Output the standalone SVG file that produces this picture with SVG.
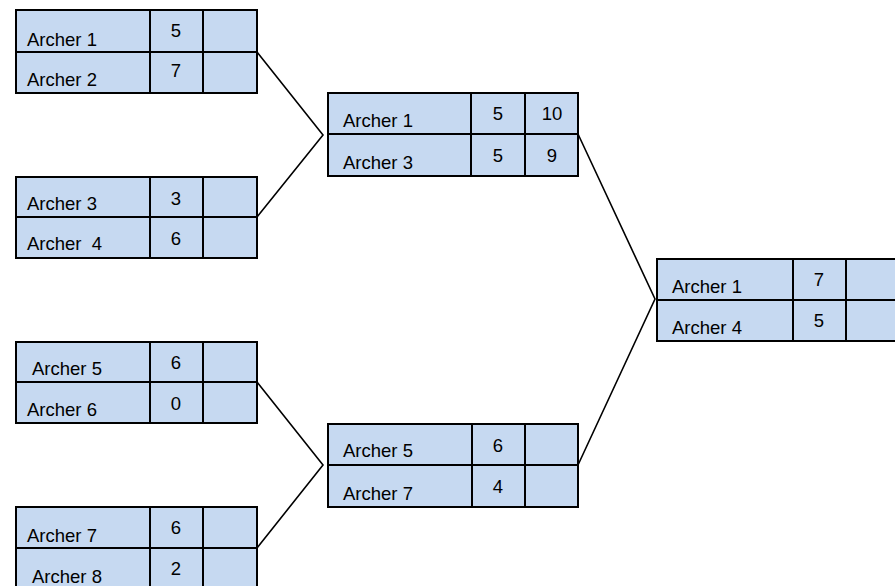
<svg xmlns="http://www.w3.org/2000/svg" width="895" height="586" viewBox="0 0 895 586">
<style>
.cell{fill:#C6D9F1;stroke:#000;stroke-width:2}
.div{stroke:#000;stroke-width:2}
.t{font-family:"Liberation Sans",Arial,sans-serif;font-size:18.5px;fill:#000}
.n{font-family:"Liberation Sans",Arial,sans-serif;font-size:18.5px;fill:#000;text-anchor:middle}
.con{fill:none;stroke:#000;stroke-width:1.6}
</style>
<rect width="895" height="586" fill="#fff"/>
<g id="connectors">
<polyline class="con" points="257,52 323,135 257,217"/>
<polyline class="con" points="257,382 323,465 257,548"/>
<polyline class="con" points="578,134 655,299 578,465"/>
</g>
<g id="match1">
<rect class="cell" x="16" y="10" width="241" height="83"/>
<line class="div" x1="16" y1="52" x2="257" y2="52"/>
<line class="div" x1="150" y1="10" x2="150" y2="93"/>
<line class="div" x1="203" y1="10" x2="203" y2="93"/>
<text class="t" x="27" y="46">Archer 1</text>
<text class="n" x="176" y="37">5</text>
<text class="t" x="27" y="86">Archer 2</text>
<text class="n" x="176" y="77">7</text>
</g>
<g id="match2">
<rect class="cell" x="16" y="177" width="241" height="81"/>
<line class="div" x1="16" y1="217" x2="257" y2="217"/>
<line class="div" x1="150" y1="177" x2="150" y2="258"/>
<line class="div" x1="203" y1="177" x2="203" y2="258"/>
<text class="t" x="27" y="210">Archer 3</text>
<text class="n" x="176" y="205">3</text>
<text class="t" x="27" y="250" xml:space="preserve">Archer  4</text>
<text class="n" x="176" y="245">6</text>
</g>
<g id="match3">
<rect class="cell" x="16" y="342" width="241" height="81"/>
<line class="div" x1="16" y1="382" x2="257" y2="382"/>
<line class="div" x1="150" y1="342" x2="150" y2="423"/>
<line class="div" x1="203" y1="342" x2="203" y2="423"/>
<text class="t" x="32" y="375">Archer 5</text>
<text class="n" x="176" y="369">6</text>
<text class="t" x="27" y="416">Archer 6</text>
<text class="n" x="176" y="410">0</text>
</g>
<g id="match4">
<rect class="cell" x="16" y="507" width="241" height="84"/>
<line class="div" x1="16" y1="548" x2="257" y2="548"/>
<line class="div" x1="150" y1="507" x2="150" y2="591"/>
<line class="div" x1="203" y1="507" x2="203" y2="591"/>
<text class="t" x="27" y="542">Archer 7</text>
<text class="n" x="176" y="534">6</text>
<text class="t" x="32" y="583">Archer 8</text>
<text class="n" x="176" y="575">2</text>
</g>
<g id="semi1">
<rect class="cell" x="328" y="93" width="250" height="83"/>
<line class="div" x1="328" y1="134" x2="578" y2="134"/>
<line class="div" x1="471" y1="93" x2="471" y2="176"/>
<line class="div" x1="525" y1="93" x2="525" y2="176"/>
<text class="t" x="343" y="127">Archer 1</text>
<text class="n" x="498" y="120">5</text>
<text class="n" x="552" y="120">10</text>
<text class="t" x="343" y="169">Archer 3</text>
<text class="n" x="498" y="162">5</text>
<text class="n" x="552" y="162">9</text>
</g>
<g id="semi2">
<rect class="cell" x="328" y="424" width="250" height="83"/>
<line class="div" x1="328" y1="465" x2="578" y2="465"/>
<line class="div" x1="472" y1="424" x2="472" y2="507"/>
<line class="div" x1="525" y1="424" x2="525" y2="507"/>
<text class="t" x="343" y="457">Archer 5</text>
<text class="n" x="498" y="452">6</text>
<text class="t" x="343" y="500">Archer 7</text>
<text class="n" x="498" y="493">4</text>
</g>
<g id="final">
<rect class="cell" x="657" y="259" width="240" height="82"/>
<line class="div" x1="657" y1="300" x2="897" y2="300"/>
<line class="div" x1="793" y1="259" x2="793" y2="341"/>
<line class="div" x1="846" y1="259" x2="846" y2="341"/>
<text class="t" x="672" y="293">Archer 1</text>
<text class="n" x="819" y="286">7</text>
<text class="t" x="672" y="334">Archer 4</text>
<text class="n" x="819" y="327">5</text>
</g>
</svg>
